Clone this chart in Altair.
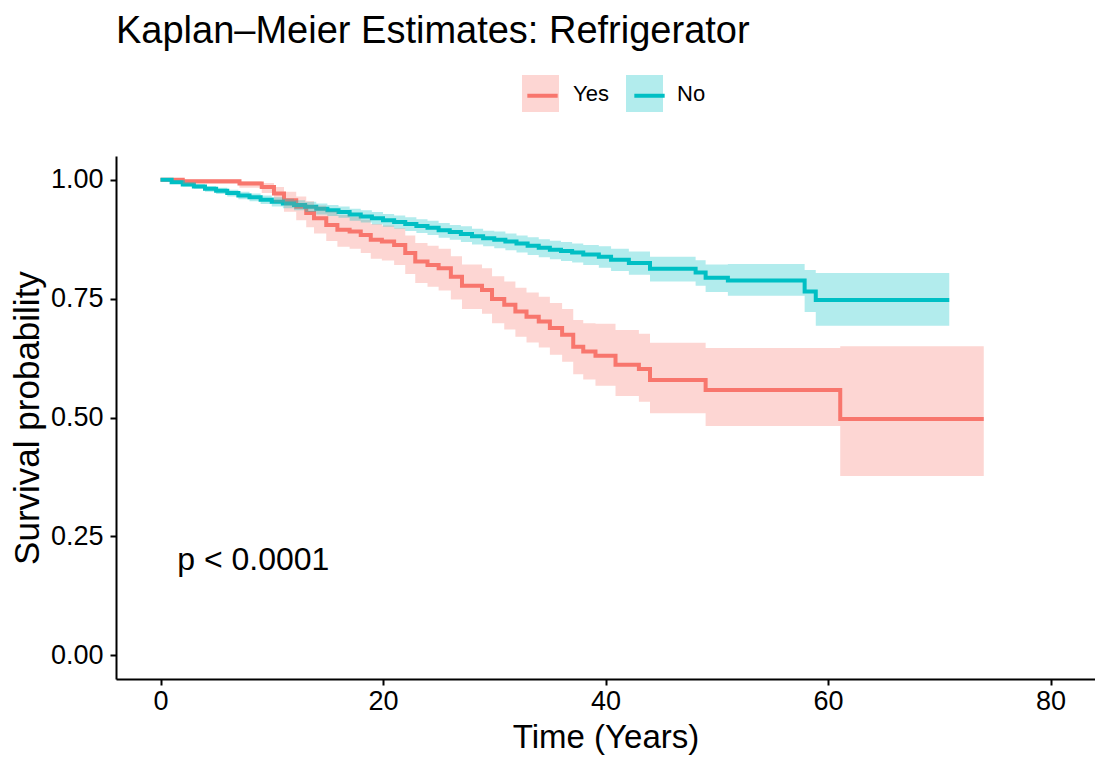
import altair as alt
import pandas as pd

RED = "#F8766D"
TEAL = "#00BFC4"
FONT = "Liberation Sans"

groups = ["Yes", "No"]

# ---- group "Yes" (refrigerator) : step times, survival, CI lower, CI upper
yes_time = [0, 2.0, 7.1, 9.1, 10.2, 11.1, 12.2, 13.1, 13.8, 14.9, 15.9, 17.0, 18.0, 18.9,
            19.9, 21.0, 22.0, 22.9, 24.0, 25.0, 26.1, 27.1, 28.9, 29.8, 30.9, 31.9, 32.9,
            34.0, 35.0, 36.1, 37.1, 38.0, 39.1, 40.9, 43.0, 44.0, 49.0, 61.1, 74.0]
yes_surv = [1.000, 0.997, 0.992, 0.985, 0.971, 0.957, 0.943, 0.930, 0.919, 0.905, 0.895,
            0.891, 0.884, 0.874, 0.870, 0.863, 0.846, 0.828, 0.821, 0.814, 0.796, 0.777,
            0.768, 0.749, 0.737, 0.723, 0.712, 0.702, 0.688, 0.674, 0.649, 0.639, 0.630,
            0.611, 0.602, 0.579, 0.558, 0.497, 0.497]
yes_lower = [1.000, 0.991, 0.983, 0.972, 0.952, 0.933, 0.915, 0.900, 0.887, 0.871, 0.859,
             0.855, 0.846, 0.834, 0.830, 0.821, 0.802, 0.783, 0.775, 0.767, 0.748, 0.728,
             0.718, 0.698, 0.685, 0.670, 0.658, 0.647, 0.632, 0.617, 0.591, 0.580, 0.567,
             0.545, 0.533, 0.509, 0.482, 0.377, 0.377]
yes_upper = [1.000, 1.000, 0.997, 0.993, 0.985, 0.975, 0.965, 0.955, 0.946, 0.934, 0.926,
             0.922, 0.916, 0.907, 0.904, 0.898, 0.883, 0.867, 0.861, 0.855, 0.839, 0.822,
             0.814, 0.797, 0.786, 0.773, 0.763, 0.754, 0.741, 0.728, 0.705, 0.698, 0.697,
             0.684, 0.676, 0.657, 0.646, 0.650, 0.650]

# ---- group "No"
no_time = [0, 1, 2, 3, 4, 5, 6, 7, 8, 9, 10, 11, 12, 13, 14, 15, 16, 17, 18, 19, 20, 21,
           22, 23, 24, 25, 26, 27, 28, 29, 30, 31, 32, 33, 34, 35, 36, 37, 38, 39.4, 40.5,
           42.1, 44.0, 48.1, 49.0, 51.0, 57.9, 58.9, 70.9]
no_surv = [1.000, 0.995, 0.990, 0.986, 0.981, 0.977, 0.972, 0.967, 0.963, 0.958, 0.954,
           0.950, 0.947, 0.943, 0.939, 0.936, 0.932, 0.927, 0.923, 0.919, 0.915, 0.911,
           0.907, 0.903, 0.899, 0.894, 0.890, 0.886, 0.881, 0.877, 0.874, 0.870, 0.866,
           0.861, 0.857, 0.853, 0.850, 0.847, 0.843, 0.838, 0.832, 0.825, 0.813, 0.805,
           0.794, 0.788, 0.765, 0.747, 0.747]
no_lower = [1.000, 0.992, 0.986, 0.981, 0.975, 0.970, 0.965, 0.959, 0.955, 0.949, 0.944,
            0.940, 0.936, 0.932, 0.927, 0.924, 0.920, 0.914, 0.910, 0.906, 0.901, 0.897,
            0.892, 0.888, 0.884, 0.878, 0.874, 0.869, 0.864, 0.860, 0.856, 0.852, 0.847,
            0.842, 0.837, 0.833, 0.829, 0.826, 0.821, 0.815, 0.808, 0.800, 0.786, 0.777,
            0.764, 0.756, 0.722, 0.693, 0.693]
no_upper = [1.000, 0.998, 0.994, 0.991, 0.987, 0.983, 0.979, 0.975, 0.971, 0.967, 0.963,
            0.960, 0.957, 0.954, 0.950, 0.947, 0.944, 0.939, 0.936, 0.932, 0.928, 0.925,
            0.921, 0.917, 0.914, 0.909, 0.905, 0.902, 0.897, 0.893, 0.891, 0.887, 0.883,
            0.879, 0.875, 0.872, 0.869, 0.866, 0.863, 0.860, 0.855, 0.849, 0.838, 0.831,
            0.822, 0.823, 0.810, 0.804, 0.804]

x_ticks = [0, 20, 40, 60, 80]
y_ticks = [0, 0.25, 0.5, 0.75, 1.0]
pval_label = ["p < 0.0001"]
pval_x = [1.5]
pval_y = [0.2]

rows = []
for g, T, S, L, U in [("Yes", yes_time, yes_surv, yes_lower, yes_upper),
                      ("No", no_time, no_surv, no_lower, no_upper)]:
    for t, s, l, u in zip(T, S, L, U):
        rows.append({"grp": g, "grp_line": g + " ", "time": t, "surv": s, "lower": l, "upper": u})
df = pd.DataFrame(rows)

xscale = alt.Scale(domain=[-4, 84], nice=False, zero=False)
yscale = alt.Scale(domain=[-0.05, 1.05], nice=False, zero=False)

axis_common = dict(
    grid=False, domainColor="black", domainWidth=2, tickColor="black", tickWidth=2,
    tickSize=6, labelFont=FONT, labelFontSize=27, labelColor="black",
    titleFont=FONT, titleFontWeight="normal", titleColor="black",
)

x_enc = alt.X("time:Q", scale=xscale,
              axis=alt.Axis(values=x_ticks, format="d", title="Time (Years)", titleFontSize=33,
                            labelPadding=3, titlePadding=7, labelFlush=False, **axis_common))
y_enc = alt.Y("surv:Q", scale=yscale,
              axis=alt.Axis(values=y_ticks, format=".2f", title="Survival probability",
                            titleFontSize=35, labelPadding=7, titlePadding=5, **axis_common))

legend_common = dict(title=None, orient="none", legendX=406, legendY=-81,
                     direction="horizontal", symbolSize=1369, labelFont=FONT,
                     labelFontSize=22, padding=0)

# line keys of the legend (drawn over the ribbon keys), no labels of their own
lines = alt.Chart(df).mark_line(interpolate="step-after", strokeWidth=4).encode(
    x=x_enc,
    y=y_enc,
    stroke=alt.Stroke("grp_line:N",
                      scale=alt.Scale(domain=[g + " " for g in groups], range=[RED, TEAL]),
                      legend=alt.Legend(symbolType="M-0.82,0L0.82,0", symbolStrokeWidth=4,
                                        symbolFillColor="transparent", labelExpr="''",
                                        labelOffset=0, columnPadding=60, **legend_common)),
)

bands = alt.Chart(df).mark_area(interpolate="step-after", fillOpacity=0.3).encode(
    x="time:Q",
    y="lower:Q",
    y2="upper:Q",
    fill=alt.Fill("grp:N", scale=alt.Scale(domain=groups, range=[RED, TEAL]),
                  legend=alt.Legend(symbolType="square", symbolStrokeWidth=0, symbolOpacity=0.3,
                                    labelColor="black", labelOffset=14, columnPadding=17,
                                    **legend_common)),
)

pdf = pd.DataFrame({"x": pval_x, "y": pval_y, "label": pval_label})
ptext = alt.Chart(pdf).mark_text(align="left", baseline="middle", font=FONT, fontSize=32,
                                 color="black").encode(
    x="x:Q", y="y:Q", text="label:N")

chart = alt.layer(lines, bands, ptext).properties(
    width=979,
    height=523,
    autosize=alt.AutoSizeParams(type="none"),
    padding={"left": 116, "top": 156, "right": 0, "bottom": 80},
    background="white",
    title=alt.TitleParams("Kaplan–Meier Estimates: Refrigerator", anchor="start", frame="group",
                          font=FONT, fontSize=38, fontWeight="normal", color="black",
                          baseline="alphabetic", offset=-6),
).configure_view(stroke=None)

chart.save("out.html", embed_options={"renderer": "svg", "actions": False})
